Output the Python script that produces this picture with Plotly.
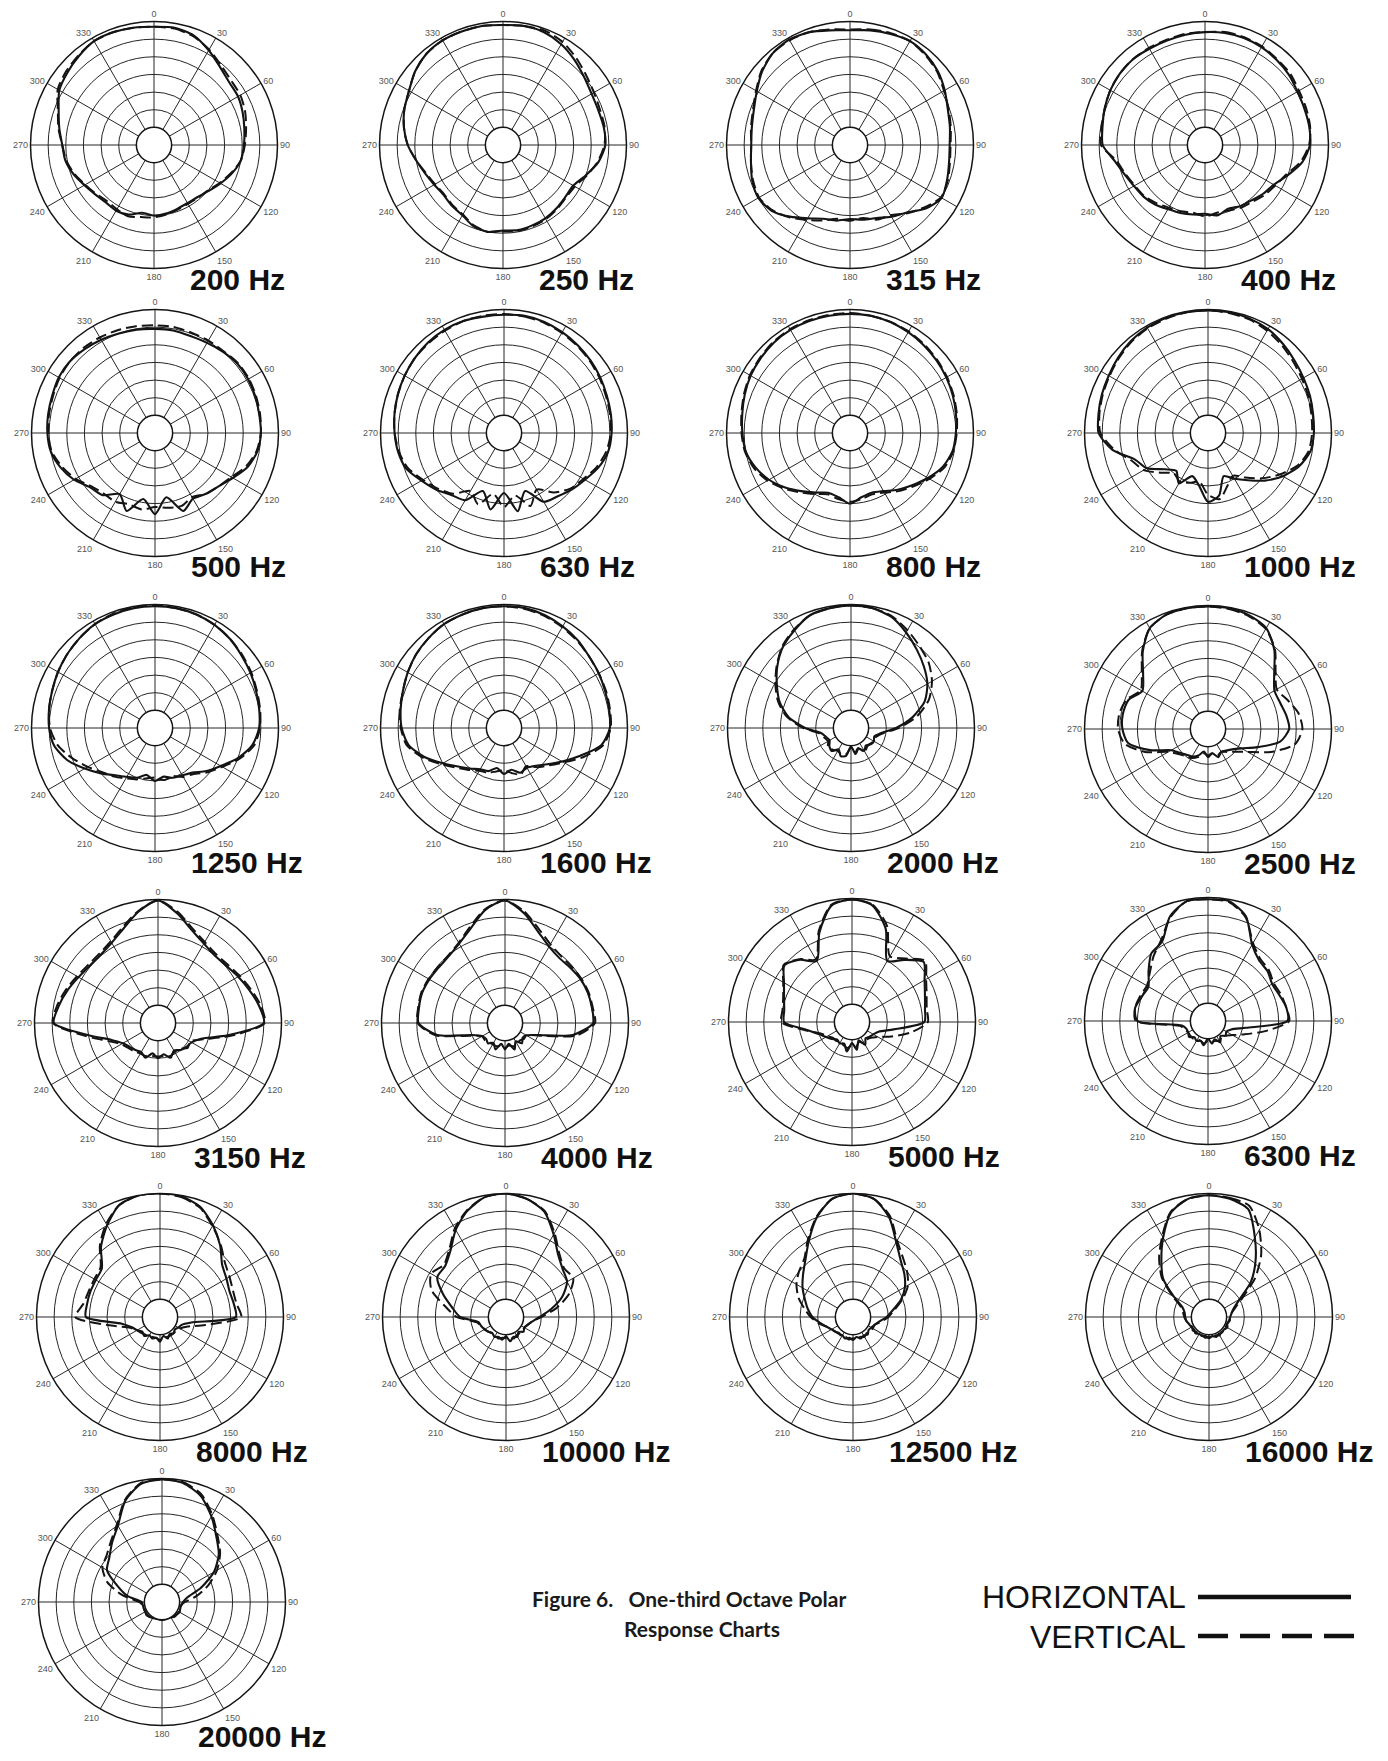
import plotly.graph_objects as go

# ---------------- data (dB re on-axis, read at every 10 degrees) ----------------
ANGLES = [0, 10, 20, 30, 40, 50, 60, 70, 80, 90, 100, 110, 120, 130, 140, 150, 160, 170,
          180, 190, 200, 210, 220, 230, 240, 250, 260, 270, 280, 290, 300, 310, 320, 330, 340, 350]
ANGLE_TICKS = [0, 30, 60, 90, 120, 150, 180, 210, 240, 270, 300, 330]
RING_DB = [-30, -25, -20, -15, -10, -5]
FREQ_LABELS = ["200 Hz", "250 Hz", "315 Hz", "400 Hz",
               "500 Hz", "630 Hz", "800 Hz", "1000 Hz",
               "1250 Hz", "1600 Hz", "2000 Hz", "2500 Hz",
               "3150 Hz", "4000 Hz", "5000 Hz", "6300 Hz",
               "8000 Hz", "10000 Hz", "12500 Hz", "16000 Hz",
               "20000 Hz"]

H200 = [-1.5, -1.25, -2, -4, -6, -7.25, -7.5, -8.25, -9, -9.5, -10, -11.5, -13.25, -14.75, -15.75, -16, -15.75, -15.25, -15, -15.5, -14, -13.5, -13.75, -13.25, -12.25, -10.75, -9.5, -9, -7.75, -6.25, -4, -3, -2, -1, -1, -1.25]
V200 = [-1.5, -1.5, -2.25, -3.75, -5.5, -6.5, -6.75, -7.5, -8.5, -9.25, -10, -11.75, -13.5, -15, -15.5, -15.75, -15.5, -15, -14.5, -14.25, -13.5, -14, -14.25, -13.5, -12.5, -11, -9.75, -9, -7.5, -6, -3.5, -2.5, -1.75, -1, -1, -1.25]
H250 = [-1, -0.75, -1, -2, -3.5, -5, -6, -6.25, -6, -6, -7.5, -10, -12, -12, -11.5, -11, -10.75, -10.5, -10.75, -10, -10.5, -12, -12.5, -13, -12.5, -11.5, -10, -8, -6.5, -5.25, -4.25, -2.5, -1.25, -0.75, -0.75, -0.75]
V250 = [-1, -0.75, -0.5, -1.25, -2.75, -4.25, -5.25, -5.75, -5.75, -6.25, -7.75, -9.75, -11.5, -11.75, -11.25, -10.75, -10.5, -10.25, -10.5, -10, -10.75, -12.25, -12.75, -13.25, -12.75, -11.75, -10, -8, -6.5, -5.25, -4.25, -2.5, -1.25, -0.75, -0.75, -0.75]
H315 = [-2.5, -2, -1.5, -1, -1.5, -2.5, -4, -5.5, -6.25, -6.75, -6.5, -5.75, -5, -7, -10, -11.5, -13, -13.5, -14, -13.25, -12.75, -11, -8.5, -6, -5, -5.5, -6.5, -7, -6.75, -6, -4.5, -2.5, -1, -0.5, -1, -2]
V315 = [-2.25, -1.75, -1.25, -1, -1.75, -2.75, -4.25, -5.25, -6, -6.5, -6.25, -5.5, -5.25, -7.5, -9.75, -12, -12.5, -14, -13.5, -13.75, -12.25, -10.5, -8.25, -6.25, -5.25, -5.75, -6.5, -7, -6.5, -5.75, -4.25, -2.25, -1, -0.75, -1, -1.75]
H400 = [-3, -2.75, -2.75, -3, -3.5, -4, -4.75, -5, -5, -5.25, -7, -10, -12.5, -13.5, -14.5, -15, -15.75, -14.75, -15.5, -15, -14.5, -14, -13, -12.25, -11.75, -10.75, -9, -6, -5.5, -4.75, -4, -3.5, -3.25, -3.5, -3.5, -3.25]
V400 = [-3, -2.5, -2.5, -2.75, -3.25, -3.5, -4.25, -4.5, -4.75, -5.5, -7.5, -10.5, -12, -13, -14, -14.5, -15.25, -15.5, -14.75, -15.5, -15, -14.5, -13.5, -12.5, -12, -11, -9.5, -5.5, -5.25, -4.75, -4, -3.5, -3.25, -3.25, -3.25, -3]
H500 = [-5.5, -5.5, -5.75, -5.5, -5, -4.5, -4.5, -4.75, -5, -5, -5.5, -7, -9.5, -11.5, -12.5, -13.5, -11.5, -16.5, -12, -16, -11.5, -15, -12, -11, -8.5, -6.5, -5, -4.5, -4.25, -4, -3.5, -3.5, -4, -4.5, -5, -5.25]
V500 = [-4.5, -4.5, -4.75, -4.75, -4.75, -4.25, -4.25, -4.5, -4.75, -5, -5.75, -7.5, -10, -11.5, -12.5, -14, -13, -13.5, -14, -13, -13.5, -12.5, -12.5, -11.5, -9, -7, -5.25, -4.75, -4.5, -4.25, -3.75, -3.5, -3.5, -3.75, -4, -4.25]
H630 = [-1.5, -1.25, -1.5, -2, -2.5, -3, -3.5, -4, -4.25, -4.5, -5, -6.5, -8.5, -10, -11.5, -12.5, -17.5, -12.5, -18, -13, -17.5, -13, -12, -10, -8, -5.5, -4.5, -4, -3.5, -3, -2.5, -2, -1.5, -1.25, -1.25, -1.5]
V630 = [-1.25, -1.5, -1.75, -2.25, -2.75, -3.25, -3.75, -4.25, -4.5, -4.75, -5.5, -7, -9, -10.5, -13, -16.5, -13, -17, -14, -17.5, -13.5, -16, -12.5, -10.5, -8.5, -6, -4.75, -4, -3.5, -3, -2.5, -2, -1.75, -1.5, -1.25, -1.25]
H800 = [-1.25, -1.25, -1.5, -2, -2.5, -3, -3.5, -4, -4.5, -5, -5.5, -7, -9.5, -12, -14, -16, -17, -16.5, -15, -16.5, -17, -15.5, -13.5, -11, -8.5, -6.5, -5, -4.5, -4, -3.25, -2.5, -2, -1.5, -1.25, -1.25, -1.25]
V800 = [-1, -1.25, -1.5, -1.75, -2.25, -2.75, -3.25, -3.75, -4.25, -4.75, -5.25, -6.5, -9, -11.5, -13.5, -15.5, -16.5, -16, -15.5, -16, -16.5, -15, -13, -10.5, -8, -6, -4.75, -4.25, -3.75, -3, -2.25, -1.75, -1.25, -1, -1, -1]
H1000 = [-0.25, -0.25, -0.5, -1, -2, -3, -3.75, -4.25, -4.75, -5, -5.5, -7.5, -10.5, -14, -17.5, -20, -22, -17, -15.5, -20, -22, -18.5, -21, -19, -15, -13, -7.5, -4, -3.5, -3, -2.5, -1.75, -1, -0.5, -0.25, -0.25]
V1000 = [-0.25, -0.5, -0.75, -1.5, -2.5, -3.5, -4.25, -4.75, -5.25, -5.5, -6, -8, -11.5, -15, -18.5, -21, -19, -16, -17.5, -21, -20, -19, -20, -17.5, -14, -12, -8, -4.5, -3.75, -3.25, -2.75, -2, -1.25, -0.75, -0.5, -0.25]
H1250 = [-0.5, -0.5, -0.75, -1.25, -2, -3, -3.75, -4.5, -5, -5.5, -7, -10, -13.5, -16, -18.5, -19.5, -20, -21, -20, -21.5, -20, -19, -17.5, -15, -12, -8.5, -6, -5, -4.5, -4, -3.25, -2.5, -1.75, -1, -0.75, -0.5]
V1250 = [-0.25, -0.5, -0.75, -1.25, -2, -2.75, -3.5, -4.25, -4.75, -5.25, -6.5, -9.5, -13, -15.5, -18, -19, -20.5, -20, -21, -20.5, -19.5, -18.5, -17, -15.5, -13, -10, -7, -5.25, -4.5, -4, -3.25, -2.5, -1.75, -1, -0.5, -0.25]
H1600 = [-0.5, -0.5, -1, -1.75, -2.5, -3.5, -4, -4.5, -4.75, -5, -7, -12, -16, -19, -21, -22, -21.5, -23, -22, -23.5, -22, -21.5, -20, -18, -15, -11, -7.5, -6, -5.25, -4.5, -3.5, -2.5, -1.75, -1, -0.75, -0.5]
V1600 = [-0.5, -0.75, -1.25, -2, -2.75, -3.5, -4, -4.25, -4.5, -4.75, -6.5, -11, -15.5, -18.5, -20.5, -22.5, -21, -22, -23, -22.5, -21.5, -21, -19.5, -17.5, -14.5, -10.5, -7, -5.75, -5, -4.5, -3.5, -2.5, -1.75, -1, -0.75, -0.5]
H2000 = [-0.25, -0.5, -1.5, -3.75, -6, -8, -10, -12.75, -17.25, -22.25, -26.5, -28, -27.5, -27.75, -28.5, -27.5, -28.75, -27.5, -29.75, -27, -26.5, -28, -26.5, -27, -28, -27.5, -26.5, -22, -17, -13.5, -10.75, -7.75, -5, -3, -1, -0.5]
V2000 = [-0.25, -0.5, -1.25, -3, -4.75, -6.25, -8.5, -11.5, -16, -21.5, -26, -27.5, -27.5, -28, -28, -27, -29, -28, -29.5, -27.5, -27, -27.5, -27, -26.5, -27.5, -27, -26, -21.5, -16.5, -13, -10.25, -7.5, -4.75, -2.75, -1, -0.5]
H2500 = [-0.25, -0.25, -0.75, -2, -5.75, -10.5, -13.25, -13.25, -12.5, -12, -14.25, -20, -24, -26, -27, -27.5, -26.5, -28, -27, -28.5, -27, -26, -25.5, -24.5, -23, -17.5, -12, -10.75, -10.5, -11, -13.5, -11, -6.25, -2, -0.5, -0.25]
V2500 = [-0.25, -0.5, -1, -2.25, -5.5, -10, -12.5, -11, -9, -8.25, -10, -16, -22, -25, -26.5, -27.5, -27, -28, -27.5, -28, -26.5, -25.5, -25, -24, -22, -16, -11, -9.5, -9.5, -10.5, -13, -10.5, -6, -2, -0.5, -0.25]
H3150 = [-0.25, -3.5, -7, -9, -10, -9.75, -8.75, -7.5, -6, -5, -15, -22, -24, -24.5, -25, -26, -24.5, -26, -25, -26.25, -24.5, -25.5, -25, -24.5, -23.5, -21, -15, -5.5, -6.5, -7.75, -9, -9.75, -9.75, -8.75, -6.5, -3]
V3150 = [-0.25, -3, -6.5, -8.5, -9.5, -9.25, -8.25, -7, -5.5, -4.75, -14, -21.5, -24.5, -24, -25.5, -25.5, -25, -25.5, -25.5, -25.5, -25, -25, -24.5, -24, -23, -20, -14, -5.25, -6, -7.25, -8.5, -9.25, -9.25, -8.25, -6, -2.75]
H4000 = [-0.25, -3.5, -7.5, -10, -11, -10.75, -10.25, -10, -10, -10, -15.5, -25, -28, -28.5, -27.5, -29, -27, -29, -27.5, -29, -27, -28.5, -27.5, -28, -27.5, -25, -15.5, -10.5, -10.25, -10, -10.25, -10.5, -10.25, -9, -6.5, -2.5]
V4000 = [-0.25, -3, -6.75, -9.25, -10.25, -10.25, -10, -9.75, -9.75, -9.5, -14.5, -24.5, -28, -28, -28.5, -28, -28, -28.5, -28, -28.5, -28, -28, -28, -27.5, -27.5, -24.5, -15, -10.25, -10, -9.75, -10, -10.25, -10, -8.75, -6, -2.25]
H5000 = [-0.25, -1.5, -7, -15, -12, -8.5, -11.25, -13, -14, -14.5, -23, -27, -28, -28.5, -29, -27.5, -29.5, -27, -29, -26.5, -28.5, -28, -28.5, -27.5, -26.5, -25, -22, -15.75, -15.5, -14.5, -12.75, -10, -12, -15, -8, -1.5]
V5000 = [-0.25, -1.25, -6, -13.5, -11.5, -8, -10.75, -12.5, -13.5, -13.5, -18, -23, -26.5, -28, -28.5, -28, -29, -28, -28.5, -27.5, -28, -28.5, -28, -28, -27, -25.5, -21.5, -15, -15, -14.25, -12.5, -9.75, -11.75, -14.5, -7.5, -1.25]
H6300 = [-0.5, -0.5, -3.5, -10, -12.5, -13, -14, -13.5, -12.5, -12.5, -24, -28, -29, -28.5, -29.5, -28, -29.5, -28.5, -30, -28, -29, -28.5, -29, -28, -28.5, -28.5, -27.5, -15, -14, -15, -15.5, -13, -10, -9, -3.5, -0.5]
V6300 = [-0.5, -0.75, -3.75, -9.5, -12, -12.5, -13.5, -13, -12.5, -12, -18.5, -24, -27, -28.5, -29, -28.5, -29, -29, -29.5, -28.5, -29, -29, -28.5, -28.5, -28.5, -28, -27, -14.5, -14, -14.5, -15, -13.5, -11, -8.5, -3.75, -0.5]
H8000 = [0, -0.25, -1.75, -5, -8.5, -12, -13.25, -14, -13.75, -13.5, -26, -28.5, -29, -29.5, -29, -29.5, -28.5, -29.5, -28, -29, -28.5, -29, -28, -28.5, -27.5, -26.5, -24, -14, -14, -14, -14, -13.5, -9, -5, -1.25, 0]
V8000 = [0, -0.5, -2, -5.25, -8.25, -11, -12.25, -13, -13, -12, -22, -27, -28.5, -29, -29, -29, -29, -29, -28.5, -29, -29, -28.5, -28.5, -28, -27.5, -26, -21, -11, -13, -13.5, -13.5, -13, -8.5, -4.5, -1.25, 0]
H10000 = [0, -1, -3.25, -8, -12, -14, -15, -18, -22, -25.5, -27.5, -28.5, -29, -28.5, -29.5, -28.5, -29, -28, -29.5, -28.5, -29, -28.5, -29, -28.5, -28, -27.5, -27, -22, -19.5, -16, -12.5, -12.5, -10.5, -6.5, -3, -0.5]
V10000 = [0, -1, -3, -7.5, -11.5, -13.5, -13, -16, -20.5, -25, -27.5, -28.5, -29, -29, -29, -29, -28.5, -29, -29, -29, -28.5, -29, -29, -28.5, -28, -27.5, -26.5, -21, -17.5, -12.5, -10.5, -12, -10, -6, -2.75, -0.5]
H12500 = [0, -1, -5, -10.5, -14, -16, -18, -20.5, -23.5, -25.5, -27.5, -28.5, -29, -29.25, -28.5, -29, -28.5, -29.25, -28.5, -29, -28.5, -29, -28.75, -28.5, -28, -27, -25.5, -23.5, -22, -20.5, -18.5, -16.5, -14, -10, -5, -1]
V12500 = [0, -1, -4.5, -10, -13, -15, -17, -20, -23, -25, -27, -28.5, -28.5, -29, -29, -28.5, -29, -28.5, -29, -28.5, -29, -28.5, -29, -28.5, -28, -27, -25, -23, -21, -18.5, -16.5, -15, -13.5, -9.5, -4.75, -1]
H16000 = [-0.5, -1, -2.5, -9, -14.5, -19.5, -25, -27.5, -28.5, -29, -29.25, -29.5, -29, -29.5, -29.25, -29.5, -29, -29.5, -29, -29.5, -29.25, -29.5, -29, -29.5, -29.25, -29, -28.5, -28.25, -28, -27, -23.5, -18, -14, -9, -3.5, -1]
V16000 = [-0.5, -0.75, -1.5, -6.5, -12, -18, -24, -27, -28.5, -29, -29, -29.5, -29.5, -29, -29.5, -29, -29.5, -29, -29.5, -29, -29.5, -29, -29.5, -29, -29.5, -29, -28.5, -28, -27.5, -26.5, -23, -17.5, -13, -8.5, -3.25, -1]
H20000 = [-0.25, -0.75, -3, -7, -11, -14, -18, -23.25, -27.75, -29, -29.5, -29.5, -29.25, -29.5, -29.75, -30, -30, -30, -30, -30, -30, -29.75, -29.5, -29.25, -29.5, -29.5, -29.5, -29.25, -25, -21.5, -17, -15.5, -13, -10, -4.5, -1]
V20000 = [-0.25, -0.5, -2.5, -6.5, -10.5, -13.5, -17, -21, -25, -28.5, -29.5, -29.5, -29.5, -29.5, -29.5, -30, -30, -30, -30, -30, -30, -29.5, -29.5, -29.5, -29.5, -29.5, -29.5, -28.5, -23.5, -18.5, -15.5, -14.5, -12.5, -9.5, -4.25, -0.75]

HORIZONTAL = [H200, H250, H315, H400, H500, H630, H800, H1000, H1250, H1600, H2000,
              H2500, H3150, H4000, H5000, H6300, H8000, H10000, H12500, H16000, H20000]
VERTICAL = [V200, V250, V315, V400, V500, V630, V800, V1000, V1250, V1600, V2000,
            V2500, V3150, V4000, V5000, V6300, V8000, V10000, V12500, V16000, V20000]

# ---------------- layout (page pixel geometry) ----------------
PAGE_W, PAGE_H = 1388, 1761
BODY = 8                       # default page margin around the figure div
W, H = PAGE_W - 2 * BODY, PAGE_H - 2 * BODY
R = 123.5
CENTERS = [(154, 145), (503, 145), (850, 145), (1205, 145),
           (155, 433), (504, 433), (850, 433), (1208, 433),
           (155, 728), (504, 728), (851, 728), (1208, 729),
           (158, 1023), (505, 1023), (852, 1022), (1208, 1021),
           (160, 1317), (506, 1317), (853, 1317), (1209, 1317),
           (162, 1602)]
LABEL_DX, LABEL_DY = 34, 134


def px(x):
    return (x - BODY) / W


def py(y):
    return 1 - (y - BODY) / H


INK = "#141414"
GRID = "#262626"

fig = go.Figure()
layout = dict(width=W, height=H, margin=dict(l=0, r=0, t=0, b=0),
              paper_bgcolor="white", plot_bgcolor="white", showlegend=False)
annotations = []
theta = ANGLES + [ANGLES[0]]
for i, (label, hv, vv) in enumerate(zip(FREQ_LABELS, HORIZONTAL, VERTICAL)):
    cx, cy = CENTERS[i]
    key = "polar" if i == 0 else f"polar{i + 1}"
    fig.add_trace(go.Scatterpolar(r=vv + vv[:1], theta=theta, mode="lines", subplot=key,
                                  line=dict(color=INK, width=2, dash="11px,5px", shape="spline", smoothing=0.7),
                                  hoverinfo="skip"))
    fig.add_trace(go.Scatterpolar(r=hv + hv[:1], theta=theta, mode="lines", subplot=key,
                                  line=dict(color=INK, width=2.1, shape="spline", smoothing=0.7),
                                  hoverinfo="skip"))
    layout[key] = dict(
        domain=dict(x=[px(cx - R), px(cx + R)], y=[py(cy + R), py(cy - R)]),
        hole=1 / 7, bgcolor="white",
        radialaxis=dict(range=[-30, 0], tickmode="array", tickvals=RING_DB, showticklabels=False,
                        ticks="", showline=False, showgrid=True, gridcolor=GRID, gridwidth=1.1),
        angularaxis=dict(rotation=90, direction="clockwise", tickmode="array",
                         tickvals=ANGLE_TICKS, ticktext=[str(a) for a in ANGLE_TICKS],
                         showgrid=True, gridcolor=GRID, gridwidth=1.1,
                         showline=True, linecolor=INK, linewidth=1.5, ticks="",
                         tickfont=dict(family="Liberation Sans", size=9, color="#555555")),
    )
    annotations.append(dict(text=f"<b>{label}</b>", xref="paper", yref="paper",
                            x=px(cx + LABEL_DX), y=py(cy + LABEL_DY), xanchor="left", yanchor="middle",
                            showarrow=False, font=dict(family="Liberation Sans", size=30, color="#111111")))

# caption
annotations.append(dict(text="<b>Figure 6.   One-third Octave Polar</b>", xref="paper", yref="paper",
                        x=px(530), y=py(1598), xanchor="left", yanchor="middle", showarrow=False,
                        font=dict(family="Lato", size=21, color="#1a1a1a")))
annotations.append(dict(text="<b>Response Charts</b>", xref="paper", yref="paper",
                        x=px(702), y=py(1628), xanchor="center", yanchor="middle", showarrow=False,
                        font=dict(family="Lato", size=21, color="#1a1a1a")))
# legend key
annotations.append(dict(text="HORIZONTAL", xref="paper", yref="paper",
                        x=px(1188), y=py(1597), xanchor="right", yanchor="middle", showarrow=False,
                        font=dict(family="Liberation Sans", size=32, color="#111111")))
annotations.append(dict(text="VERTICAL", xref="paper", yref="paper",
                        x=px(1188), y=py(1637), xanchor="right", yanchor="middle", showarrow=False,
                        font=dict(family="Liberation Sans", size=32, color="#111111")))
shapes = [
    dict(type="line", xref="paper", yref="paper", x0=px(1198), x1=px(1351),
         y0=py(1597), y1=py(1597), line=dict(color="#111111", width=4.5)),
    dict(type="line", xref="paper", yref="paper", x0=px(1198), x1=px(1354),
         y0=py(1636), y1=py(1636), line=dict(color="#111111", width=4.5, dash="30px,12px")),
]
layout["annotations"] = annotations
layout["shapes"] = shapes
fig.update_layout(**layout)
fig.write_html("out.html")
